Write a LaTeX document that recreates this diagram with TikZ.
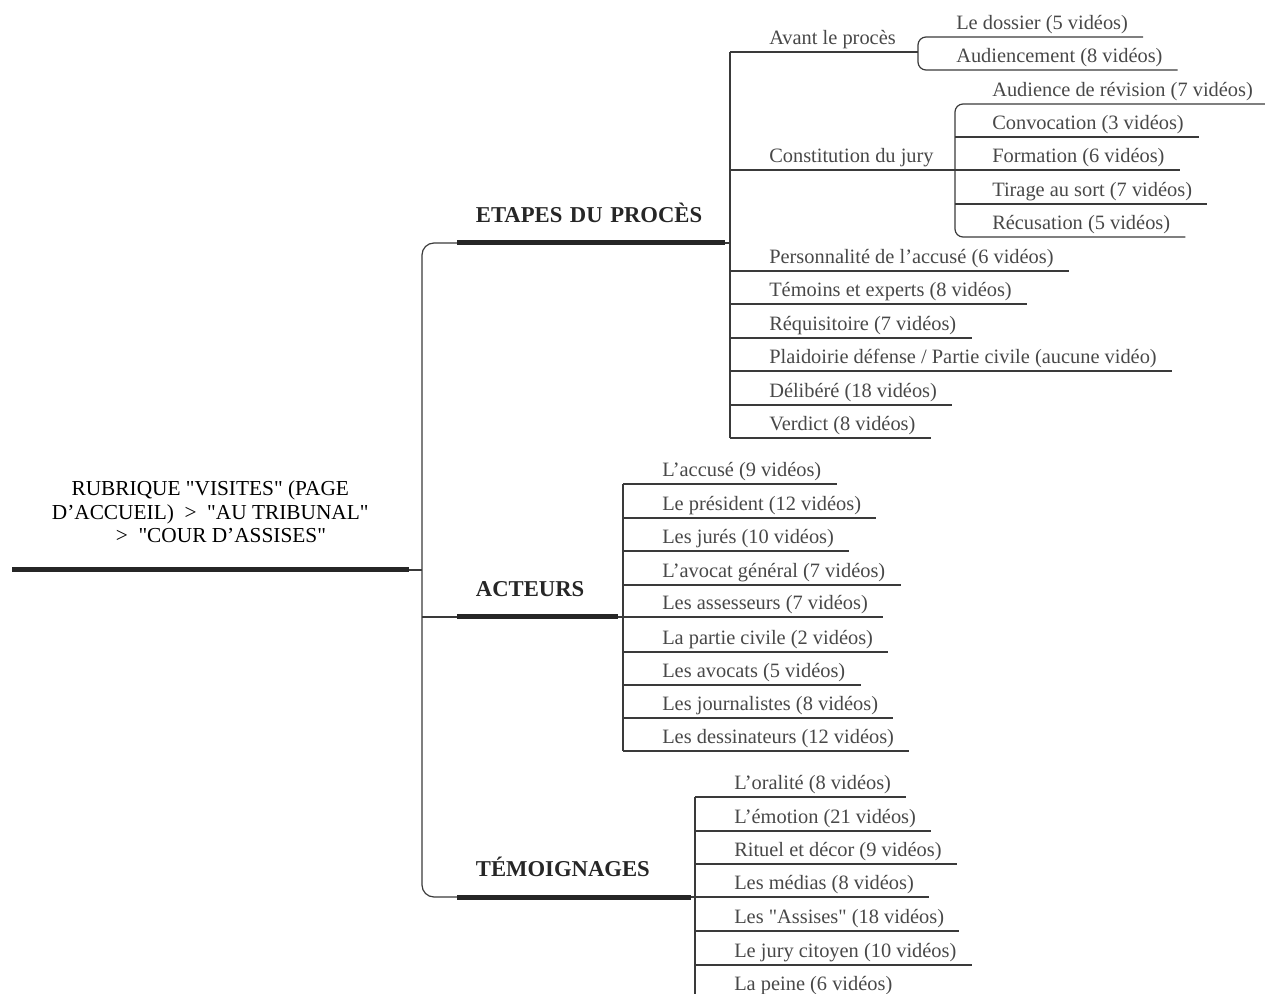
\documentclass[tikz,border=0pt]{standalone}
\usepackage{fontspec}
\setmainfont{Liberation Serif}
\usepackage{tikz}
\usepackage{xcolor}
\definecolor{twiggray}{RGB}{58,58,58}
\definecolor{stemgray}{RGB}{38,38,38}
\definecolor{leafgray}{RGB}{72,72,72}
\newcommand{\qq}{\textquotedbl}

\begin{document}
\begin{tikzpicture}[
    x=0.75pt, y=-0.75pt,
    rootnode/.style={
        anchor=south west, inner xsep=0pt, inner ysep=20pt,
        minimum width=297pt, align=center,
        font=\fontsize{16}{17.6}\selectfont
    },
    branch/.style={
        anchor=south west, inner xsep=14pt, inner ysep=15pt,
        text depth=0pt, align=left, text=stemgray,
        font=\fontsize{17}{20}\selectfont\bfseries
    },
    leaf/.style={
        anchor=south west, inner xsep=11.25pt, inner ysep=0pt,
        text depth=5.25pt, text=leafgray,
        font=\fontsize{15.3}{18}\selectfont
    },
    stem/.style={line width=3.75pt, stemgray},
    twig/.style={line width=0.9pt, twiggray}
]
\useasboundingbox (0, 0) rectangle (1265, 994);

% Root
\node[rootnode] (root) at (12, 570) {RUBRIQUE \qq VISITES\qq{} (PAGE\\D’ACCUEIL)\ \ >\ \ \qq AU TRIBUNAL\qq\\\ \ \ \ >\ \ \qq COUR D’ASSISES\qq};

% Main branches
\node[branch, text width=172.25pt] (etapes) at (457, 243) {ETAPES DU PROCÈS};
\node[branch, text width=92pt] (acteurs) at (457, 617) {ACTEURS};
\node[branch, text width=146.75pt] (temoin) at (457, 897) {TÉMOIGNAGES};

\draw[stem] (root.south west) -- (root.south east);
\draw[stem] (etapes.south west) -- (etapes.south east);
\draw[stem] (acteurs.south west) -- (acteurs.south east);
\draw[stem] (temoin.south west) -- (temoin.south east);

% Trunk
\coordinate (trunk) at (422, 570);
\draw[twig] (root.south east) -- (trunk);
\draw[twig, rounded corners=9pt] (etapes.south west) -| (trunk) |- (temoin.south west);
\draw[twig] (trunk |- acteurs.south west) -- (acteurs.south west);

% Etapes du proces
\coordinate (etapes-spine) at (730, 0);
\coordinate (avant-spine) at (918, 0);
\coordinate (jury-spine) at (955, 0);
\node[leaf] (avant) at (754, 52) {Avant le procès};
\node[leaf] (jury) at (754, 170) {Constitution du jury};
\node[leaf] (perso) at (754, 271) {Personnalité de l'accusé (6 vidéos)};
\node[leaf] (temoins) at (754, 304) {Témoins et experts (8 vidéos)};
\node[leaf] (requis) at (754, 338) {Réquisitoire (7 vidéos)};
\node[leaf] (plaid) at (754, 371) {Plaidoirie défense / Partie civile (aucune vidéo)};
\node[leaf] (delib) at (754, 405) {Délibéré (18 vidéos)};
\node[leaf] (verdict) at (754, 438) {Verdict (8 vidéos)};

\node[leaf] (dossier) at (941, 37) {Le dossier (5 vidéos)};
\node[leaf] (audiencement) at (941, 70) {Audiencement (8 vidéos)};

\node[leaf] (revision) at (977, 104) {Audience de révision (7 vidéos)};
\node[leaf] (convoc) at (977, 137) {Convocation (3 vidéos)};
\node[leaf] (formation) at (977, 170) {Formation (6 vidéos)};
\node[leaf] (tirage) at (977, 204) {Tirage au sort (7 vidéos)};
\node[leaf] (recusation) at (977, 237) {Récusation (5 vidéos)};

\draw[twig] (etapes.south east) -- (etapes-spine |- etapes.south);
\draw[twig] (etapes-spine |- avant.south) -- (etapes-spine |- verdict.south);
\draw[twig] (etapes-spine |- avant.south) -- (avant-spine |- avant.south);
\draw[twig] (etapes-spine |- jury.south) -- (jury-spine |- jury.south);
\draw[twig] (etapes-spine |- perso.south) -- (perso.south east);
\draw[twig] (etapes-spine |- temoins.south) -- (temoins.south east);
\draw[twig] (etapes-spine |- requis.south) -- (requis.south east);
\draw[twig] (etapes-spine |- plaid.south) -- (plaid.south east);
\draw[twig] (etapes-spine |- delib.south) -- (delib.south east);
\draw[twig] (etapes-spine |- verdict.south) -- (verdict.south east);

\draw[twig, rounded corners=6pt] (dossier.south east) -- (avant-spine |- dossier.south) -- (avant-spine |- audiencement.south) -- (audiencement.south east);
\draw[twig, rounded corners=6pt] (revision.south east) -- (jury-spine |- revision.south) -- (jury-spine |- recusation.south) -- (recusation.south east);
\draw[twig] (jury-spine |- convoc.south) -- (convoc.south east);
\draw[twig] (jury-spine |- formation.south) -- (formation.south east);
\draw[twig] (jury-spine |- tirage.south) -- (tirage.south east);

% Acteurs
\coordinate (acteurs-spine) at (623, 0);
\node[leaf] (accuse) at (647, 484) {L'accusé (9 vidéos)};
\node[leaf] (president) at (647, 518) {Le président (12 vidéos)};
\node[leaf] (jures) at (647, 551) {Les jurés (10 vidéos)};
\node[leaf] (avocatgen) at (647, 585) {L'avocat général (7 vidéos)};
\node[leaf] (assesseurs) at (647, 617) {Les assesseurs (7 vidéos)};
\node[leaf] (partiecivile) at (647, 652) {La partie civile (2 vidéos)};
\node[leaf] (avocats) at (647, 685) {Les avocats (5 vidéos)};
\node[leaf] (journalistes) at (647, 718) {Les journalistes (8 vidéos)};
\node[leaf] (dessinateurs) at (647, 751) {Les dessinateurs (12 vidéos)};

\draw[twig] (acteurs.south east) -- (acteurs-spine |- acteurs.south);
\draw[twig] (acteurs-spine |- accuse.south) -- (acteurs-spine |- dessinateurs.south);
\draw[twig] (acteurs-spine |- accuse.south) -- (accuse.south east);
\draw[twig] (acteurs-spine |- president.south) -- (president.south east);
\draw[twig] (acteurs-spine |- jures.south) -- (jures.south east);
\draw[twig] (acteurs-spine |- avocatgen.south) -- (avocatgen.south east);
\draw[twig] (acteurs-spine |- assesseurs.south) -- (assesseurs.south east);
\draw[twig] (acteurs-spine |- partiecivile.south) -- (partiecivile.south east);
\draw[twig] (acteurs-spine |- avocats.south) -- (avocats.south east);
\draw[twig] (acteurs-spine |- journalistes.south) -- (journalistes.south east);
\draw[twig] (acteurs-spine |- dessinateurs.south) -- (dessinateurs.south east);

% Temoignages
\coordinate (temoin-spine) at (695, 0);
\coordinate (temoin-end) at (695, 994);
\node[leaf] (oralite) at (719, 797) {L'oralité (8 vidéos)};
\node[leaf] (emotion) at (719, 831) {L'émotion (21 vidéos)};
\node[leaf] (rituel) at (719, 864) {Rituel et décor (9 vidéos)};
\node[leaf] (medias) at (719, 897) {Les médias (8 vidéos)};
\node[leaf] (assises) at (719, 931) {Les \qq Assises\qq{} (18 vidéos)};
\node[leaf] (jurycit) at (719, 965) {Le jury citoyen (10 vidéos)};
\node[leaf] (peine) at (719, 998) {La peine (6 vidéos)};

\draw[twig] (temoin.south east) -- (temoin-spine |- temoin.south);
\draw[twig] (temoin-spine |- oralite.south) -- (temoin-end);
\draw[twig] (temoin-spine |- oralite.south) -- (oralite.south east);
\draw[twig] (temoin-spine |- emotion.south) -- (emotion.south east);
\draw[twig] (temoin-spine |- rituel.south) -- (rituel.south east);
\draw[twig] (temoin-spine |- medias.south) -- (medias.south east);
\draw[twig] (temoin-spine |- assises.south) -- (assises.south east);
\draw[twig] (temoin-spine |- jurycit.south) -- (jurycit.south east);

\end{tikzpicture}
\end{document}
